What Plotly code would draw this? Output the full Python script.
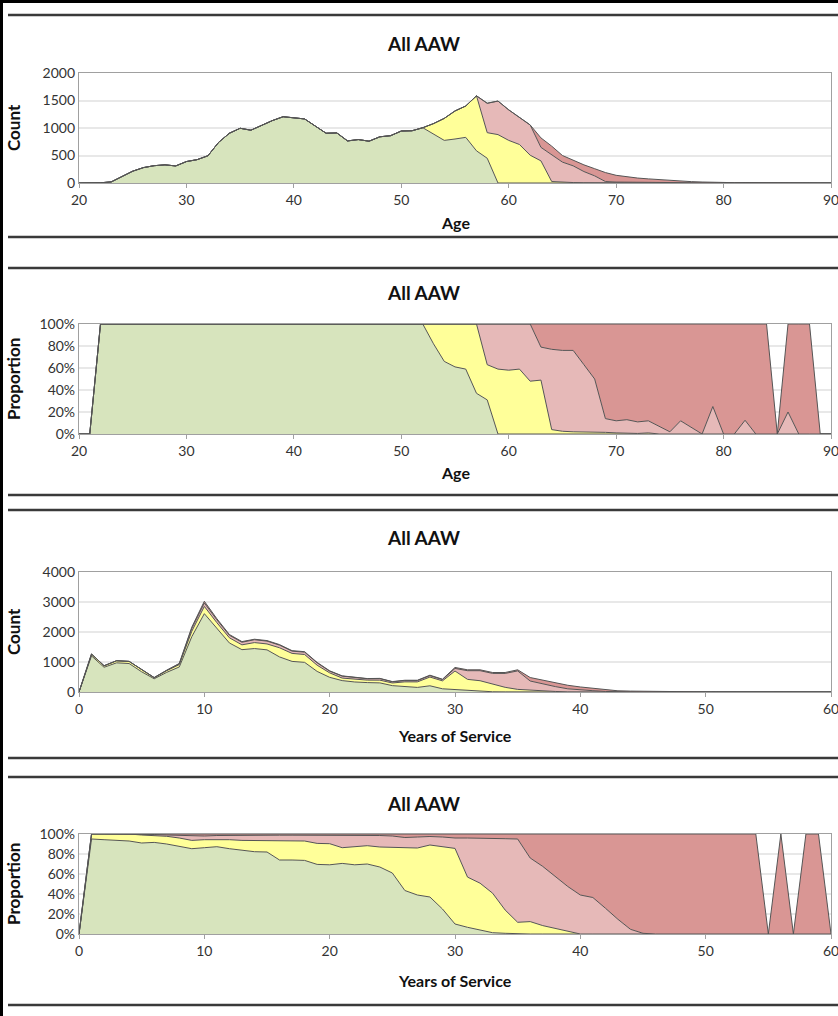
import plotly.graph_objects as go

# ---------------- data ----------------
ages = list(range(20, 91))
years = list(range(0, 61))

# Panel 1: count by age
age_green = ([0, 0, 4, 20, 110, 215, 280, 315, 330, 310,
              390, 425, 495, 740, 905, 995, 960, 1045, 1135, 1205,
              1185, 1165, 1035, 905, 910, 765, 790, 760, 840, 860,
              945, 950, 1005, 890, 775, 800, 830, 585, 450, 0]
             + [0] * 31)
age_yellow = ([0] * 30
              + [0, 0, 0, 190, 400, 510, 570, 1000, 465, 880,
                 775, 700, 505, 402, 27, 12, 8, 6, 5, 3,
                 1, 1, 1, 1, 0, 0, 0, 0, 0, 0]
              + [0] * 11)
age_pink = ([0] * 30
            + [0, 0, 0, 0, 0, 0, 0, 0, 535, 610,
               555, 490, 550, 246, 489, 368, 304, 202, 125, 24,
               16, 13, 9, 8, 4, 1, 4, 2, 0, 3,
               0, 0, 1, 0, 0, 0, 1, 0, 0, 0, 0])
age_red = ([0] * 40
           + [0, 0, 0, 172, 154, 120, 98, 122, 130, 163,
              123, 96, 80, 66, 56, 44, 29, 23, 18, 9,
              8, 6, 7, 5, 4, 0, 4, 3, 2, 0, 0])

# Panel 2: proportion by age (%)
prop_age_green = [0, 0] + [100] * 31 + [82, 66, 61, 59, 37, 31] + [0] * 32
prop_age_yellow = ([0] * 33
                   + [18, 34, 39, 41, 63, 32, 59, 58, 59, 48, 49, 4, 2.5, 2, 2, 2,
                      1.5, 1, 0.5, 0.5, 1]
                   + [0] * 17)
prop_age_pink = ([0] * 38
                 + [37, 41, 42, 41, 52, 30, 73, 73.5, 74, 61, 48, 12.5, 11, 12.5,
                    10.5, 11, 7, 2, 12, 6, 0, 25, 0, 0, 12.5, 0, 0, 0, 20, 0, 0, 0, 0])
prop_age_red = ([0] * 43
                + [21, 23, 24, 24, 37, 50, 86, 88, 87, 89, 88, 93, 98, 88, 94, 100,
                   75, 100, 100, 87.5, 100, 100, 0, 80, 100, 100, 0, 0])

# Panel 3: count by years of service
yos_green = ([0, 1203, 824, 972, 949, 673, 441, 655, 834, 1844,
              2611, 2133, 1634, 1411, 1448, 1405, 1169, 1020, 989, 686,
              489, 380, 334, 314, 304, 212, 171, 153, 207, 107,
              82, 50, 30, 8, 5, 0]
             + [0] * 25)
yos_yellow = ([0, 63, 50, 70, 71, 60, 34, 56, 80, 180,
               242, 178, 173, 161, 199, 197, 305, 266, 261, 207,
               149, 84, 86, 82, 91, 89, 167, 184, 291, 264,
               618, 371, 346, 257, 151, 87, 60, 33, 18, 5]
              + [0] * 21)
yos_pink = ([0, 0, 0, 0, 0, 7, 5, 10, 24, 95,
             112, 95, 84, 86, 95, 94, 87, 76, 78, 78,
             56, 64, 55, 46, 52, 40, 40, 43, 48, 43,
             85, 289, 334, 355, 463, 616, 306, 232, 163, 101,
             66, 44, 18, 6, 1]
            + [0] * 16)
yos_red = [0, 0, 0, 0, 0, 0, 2, 7, 14, 43,
           60, 37, 25, 22, 17, 18, 19, 16, 16, 15,
           12, 10, 7, 6, 7, 6, 14, 12, 14, 12,
           33, 30, 30, 30, 31, 37, 116, 127, 133, 118,
           102, 76, 52, 34, 29, 22, 15, 10, 7, 5,
           4, 3, 2, 2, 1, 0, 1, 0, 1, 1, 0]

# Panel 4: proportion by years of service (%)
prop_yos_green = ([0, 95, 94.3, 93.3, 93, 91, 91.6, 90, 87.6, 85.3,
                   86.3, 87.3, 85.3, 84, 82.3, 82, 74, 74, 73.6, 69.6,
                   69.2, 70.6, 69.2, 70, 67, 61, 43.5, 39, 37, 25,
                   10, 6.7, 4, 1.3, 0.7, 0]
                  + [0] * 25)
prop_yos_yellow = ([0, 5, 5.7, 6.7, 7, 8, 6.9, 7.7, 8.4, 8.3,
                    8, 7.3, 9, 9.6, 11.3, 11.5, 19.3, 19.3, 19.4, 21,
                    21.1, 15.7, 17.8, 18.3, 20, 25.6, 42.8, 47, 52, 62,
                    75.6, 50.2, 46.8, 39.5, 23.3, 11.7, 12.4, 8.4, 5.7, 2.3]
                   + [0] * 21)
prop_yos_pink = ([0, 0, 0, 0, 0, 1, 1, 1.3, 2.5, 4.4,
                  3.7, 3.9, 4.4, 5.1, 5.4, 5.5, 5.5, 5.5, 5.8, 7.9,
                  8, 12, 11.5, 10.4, 11.5, 11.4, 10.2, 11, 8.5, 10,
                  10.4, 39.1, 45.2, 54.7, 71.3, 83.3, 63.6, 59.2, 51.8, 45.2,
                  39, 36.5, 25.8, 14.7, 4.7, 0.7]
                 + [0] * 15)
prop_yos_red = [0, 0, 0, 0, 0, 0, 0.5, 1, 1.5, 2,
                2, 1.5, 1.3, 1.3, 1, 1, 1.2, 1.2, 1.2, 1.5,
                1.7, 1.7, 1.5, 1.3, 1.5, 2, 3.5, 3, 2.5, 3,
                4, 4, 4, 4.5, 4.7, 5, 24, 32.4, 42.5, 52.5,
                61, 63.5, 74.2, 85.3, 95.3, 99.3, 100, 100, 100, 100,
                100, 100, 100, 100, 100, 0, 100, 0, 100, 100, 0]

chart_title = "All AAW"

# ---------------- styling ----------------
W, H = 838, 1016
FONT = "Lato, 'Open Sans', sans-serif"
COLORS = ["#D7E4BD", "#FFFF99", "#E6B9B8", "#D99694"]
EDGE = "#555555"


def fx(px):
    return px / W


def fy(py):
    return 1 - py / H


fig = go.Figure()

panels = [
    dict(x=ages, series=[age_green, age_yellow, age_pink, age_red], rng=[20, 90],
         yr=[0, 2000], dt=500, suffix="", plot=(73, 183), title_y=43,
         xt="Age", xt_y=222, ytitle="Count", sep=(15, 237)),
    dict(x=ages, series=[prop_age_green, prop_age_yellow, prop_age_pink, prop_age_red],
         rng=[20, 90], yr=[0, 100], dt=20, suffix="%", plot=(324, 434), title_y=293,
         xt="Age", xt_y=472, ytitle="Proportion", sep=(268, 495)),
    dict(x=years, series=[yos_green, yos_yellow, yos_pink, yos_red], rng=[0, 60],
         yr=[0, 4000], dt=1000, suffix="", plot=(572, 692), title_y=537,
         xt="Years of Service", xt_y=735, ytitle="Count", sep=(510, 758)),
    dict(x=years, series=[prop_yos_green, prop_yos_yellow, prop_yos_pink, prop_yos_red],
         rng=[0, 60], yr=[0, 100], dt=20, suffix="%", plot=(834, 934), title_y=803,
         xt="Years of Service", xt_y=980, ytitle="Proportion", sep=(777, 1005)),
]

annotations = []
shapes = []
for i, p in enumerate(panels, start=1):
    xa = "x" if i == 1 else f"x{i}"
    ya = "y" if i == 1 else f"y{i}"
    for s, col in zip(p["series"], COLORS):
        fig.add_trace(go.Scatter(
            x=p["x"], y=s, xaxis=xa, yaxis=ya, mode="lines",
            stackgroup=f"g{i}", fillcolor=col,
            line=dict(color=EDGE, width=1), hoverinfo="x+y", showlegend=False))
    top, bot = p["plot"]
    axis_common = dict(showline=True, mirror=True, linecolor="#A0A0A0", linewidth=1.2,
                       tickfont=dict(family=FONT, size=14, color="#333333"),
                       automargin=False, zeroline=False, ticklabeloverflow="allow")
    fig.layout[("xaxis" if i == 1 else f"xaxis{i}")] = dict(
        domain=[fx(79), fx(831)], anchor=ya, range=p["rng"], dtick=10, tick0=0,
        showgrid=False, ticks="outside", ticklen=4, tickcolor="#A0A0A0", **axis_common)
    fig.layout[("yaxis" if i == 1 else f"yaxis{i}")] = dict(
        domain=[fy(bot), fy(top)], anchor=xa, range=p["yr"], dtick=p["dt"], tick0=0,
        ticksuffix=p["suffix"], showgrid=True, gridcolor="#E8E8E8", gridwidth=1.5,
        ticks="", **axis_common)
    annotations.append(dict(text=f"<b>{chart_title}</b>", x=fx(423), y=fy(p["title_y"]),
                            xref="paper", yref="paper", showarrow=False,
                            xanchor="center", yanchor="middle",
                            font=dict(family=FONT, size=19, color="#111111")))
    annotations.append(dict(text=f"<b>{p['xt']}</b>", x=fx(455), y=fy(p["xt_y"]),
                            xref="paper", yref="paper", showarrow=False,
                            xanchor="center", yanchor="middle",
                            font=dict(family=FONT, size=16, color="#111111")))
    annotations.append(dict(text=f"<b>{p['ytitle']}</b>", x=fx(13), y=fy((top + bot) / 2),
                            xref="paper", yref="paper", showarrow=False, textangle=-90,
                            xanchor="center", yanchor="middle",
                            font=dict(family=FONT, size=17, color="#111111")))
    for sy in p["sep"]:
        shapes.append(dict(type="line", xref="paper", yref="paper", x0=fx(8), x1=1,
                           y0=fy(sy), y1=fy(sy), line=dict(color="#3A3A3A", width=2.5)))

# outer frame (left and top)
shapes.append(dict(type="rect", xref="paper", yref="paper", x0=0, x1=fx(3),
                   y0=0, y1=1, line=dict(width=0), fillcolor="#000000"))
shapes.append(dict(type="rect", xref="paper", yref="paper", x0=0, x1=1,
                   y0=fy(3), y1=1, line=dict(width=0), fillcolor="#000000"))

fig.update_layout(width=W, height=H, margin=dict(l=0, r=0, t=0, b=0),
                  paper_bgcolor="white", plot_bgcolor="white",
                  annotations=annotations, shapes=shapes, showlegend=False,
                  font=dict(family=FONT))

fig.write_html("out.html", config={"displayModeBar": False},
               post_script="document.body.style.margin='0';"
                           "document.body.style.overflow='hidden';")
